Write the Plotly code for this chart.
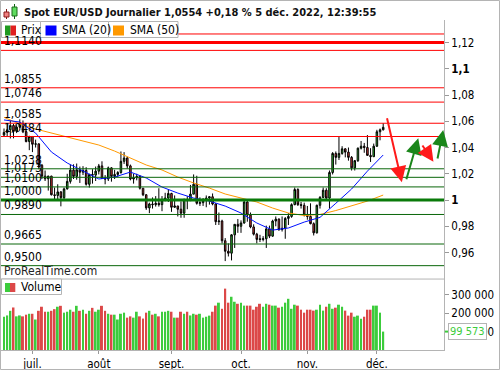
import numpy as np
import pandas as pd
import plotly.graph_objects as go

# ---------------- data ----------------
dates = pd.bdate_range("2022-06-20", "2022-12-05")

opens = [1.0495, 1.0515, 1.0535, 1.0568, 1.0523, 1.0555, 1.0583, 1.0520, 1.0445, 1.0484,
         1.0425, 1.0428, 1.0265, 1.0182, 1.0162, 1.0182, 1.0040, 1.0035, 1.0062, 1.0018,
         1.0085, 1.0142, 1.0228, 1.0180, 1.0230, 1.0212, 1.0225, 1.0120, 1.0195, 1.0190,
         1.0220, 1.0260, 1.0165, 1.0160, 1.0245, 1.0180, 1.0195, 1.0210, 1.0295, 1.0320,
         1.0260, 1.0160, 1.0170, 1.0180, 1.0090, 1.0040, 0.9940, 0.9970, 0.9965, 0.9975,
         0.9965, 1.0000, 1.0015, 1.0050, 0.9945, 0.9955, 0.9930, 0.9900, 1.0005, 0.9995,
         1.0045, 1.0120, 0.9975, 0.9980, 0.9995, 1.0015, 1.0025, 0.9970, 0.9835, 0.9840,
         0.9690, 0.9610, 0.9595, 0.9735, 0.9815, 0.9800, 0.9825, 0.9985, 0.9885, 0.9795,
         0.9740, 0.9705, 0.9700, 0.9705, 0.9780, 0.9725, 0.9840, 0.9855, 0.9775, 0.9785,
         0.9860, 0.9875, 0.9965, 1.0080, 0.9965, 0.9960, 0.9885, 0.9875, 0.9820, 0.9750,
         0.9960, 1.0020, 1.0075, 1.0015, 1.0210, 1.0355, 1.0325, 1.0355, 1.0390, 1.0365,
         1.0325, 1.0245, 1.0300, 1.0395, 1.0410, 1.0400, 1.0340, 1.0330, 1.0410, 1.0520,
         1.0535]
highs = [1.0545, 1.0583, 1.0605, 1.0580, 1.0570, 1.0615, 1.0606, 1.0530, 1.0490, 1.0488,
         1.0460, 1.0430, 1.0275, 1.0225, 1.0185, 1.0185, 1.0095, 1.0120, 1.0068, 1.0095,
         1.0200, 1.0270, 1.0272, 1.0278, 1.0255, 1.0258, 1.0250, 1.0200, 1.0235, 1.0255,
         1.0275, 1.0295, 1.0190, 1.0255, 1.0250, 1.0230, 1.0220, 1.0370, 1.0365, 1.0330,
         1.0270, 1.0200, 1.0200, 1.0190, 1.0090, 1.0045, 0.9980, 1.0020, 1.0030, 1.0090,
         1.0030, 1.0055, 1.0080, 1.0055, 1.0035, 0.9955, 0.9990, 1.0010, 1.0030, 1.0115,
         1.0195, 1.0185, 1.0020, 1.0015, 1.0035, 1.0030, 1.0050, 0.9975, 0.9905, 0.9850,
         0.9710, 0.9670, 0.9740, 0.9815, 0.9855, 0.9845, 0.9995, 0.9995, 0.9905, 0.9815,
         0.9750, 0.9735, 0.9725, 0.9805, 0.9805, 0.9850, 0.9875, 0.9860, 0.9875, 0.9870,
         0.9900, 0.9975, 1.0095, 1.0090, 0.9985, 0.9980, 0.9955, 0.9975, 0.9830, 0.9965,
         1.0030, 1.0095, 1.0090, 1.0225, 1.0365, 1.0370, 1.0480, 1.0410, 1.0395, 1.0400,
         1.0335, 1.0305, 1.0400, 1.0450, 1.0435, 1.0495, 1.0395, 1.0430, 1.0535, 1.0545,
         1.0585]
lows = [1.0485, 1.0485, 1.0469, 1.0470, 1.0510, 1.0550, 1.0510, 1.0440, 1.0380, 1.0365,
        1.0400, 1.0235, 1.0160, 1.0145, 1.0072, 1.0035, 0.9999, 0.9999, 0.9952, 1.0006,
        1.0080, 1.0125, 1.0160, 1.0155, 1.0130, 1.0190, 1.0110, 1.0095, 1.0125, 1.0145,
        1.0195, 1.0160, 1.0120, 1.0145, 1.0140, 1.0160, 1.0175, 1.0200, 1.0275, 1.0240,
        1.0150, 1.0125, 1.0150, 1.0080, 1.0030, 0.9925, 0.9900, 0.9935, 0.9950, 0.9950,
        0.9915, 0.9990, 0.9985, 0.9910, 0.9940, 0.9875, 0.9865, 0.9865, 0.9930, 0.9995,
        1.0045, 0.9965, 0.9955, 0.9955, 0.9945, 0.9965, 0.9960, 0.9810, 0.9810, 0.9670,
        0.9535, 0.9570, 0.9540, 0.9635, 0.9750, 0.9750, 0.9820, 0.9835, 0.9785, 0.9730,
        0.9670, 0.9680, 0.9685, 0.9635, 0.9710, 0.9720, 0.9800, 0.9765, 0.9760, 0.9705,
        0.9810, 0.9865, 0.9960, 0.9955, 0.9935, 0.9875, 0.9850, 0.9815, 0.9730, 0.9745,
        0.9935, 1.0015, 1.0005, 0.9935, 1.0195, 1.0270, 1.0305, 1.0345, 1.0325, 1.0300,
        1.0225, 1.0225, 1.0290, 1.0385, 1.0360, 1.0340, 1.0290, 1.0330, 1.0405, 1.0455,
        1.0530]
closes = [1.0515, 1.0535, 1.0568, 1.0523, 1.0555, 1.0583, 1.0520, 1.0445, 1.0484, 1.0425,
          1.0428, 1.0265, 1.0182, 1.0162, 1.0182, 1.0040, 1.0035, 1.0062, 1.0018, 1.0085,
          1.0142, 1.0228, 1.0180, 1.0230, 1.0212, 1.0225, 1.0120, 1.0195, 1.0190, 1.0220,
          1.0260, 1.0165, 1.0160, 1.0245, 1.0180, 1.0195, 1.0210, 1.0295, 1.0320, 1.0260,
          1.0160, 1.0170, 1.0180, 1.0090, 1.0040, 0.9940, 0.9970, 0.9965, 0.9975, 0.9965,
          1.0000, 1.0015, 1.0050, 0.9945, 0.9955, 0.9930, 0.9900, 1.0005, 0.9995, 1.0045,
          1.0120, 0.9975, 0.9980, 0.9995, 1.0015, 1.0025, 0.9970, 0.9835, 0.9840, 0.9690,
          0.9610, 0.9595, 0.9735, 0.9815, 0.9800, 0.9825, 0.9985, 0.9885, 0.9795, 0.9740,
          0.9700, 0.9700, 0.9705, 0.9780, 0.9725, 0.9840, 0.9855, 0.9775, 0.9785, 0.9860,
          0.9875, 0.9965, 1.0080, 0.9965, 0.9960, 0.9885, 0.9875, 0.9820, 0.9750, 0.9960,
          1.0020, 1.0075, 1.0015, 1.0210, 1.0355, 1.0325, 1.0355, 1.0390, 1.0365, 1.0325,
          1.0245, 1.0300, 1.0395, 1.0410, 1.0400, 1.0340, 1.0330, 1.0410, 1.0520, 1.0535,
          1.0554]
volumes = [180000, 187000, 212000, 230000, 182000, 187000, 182000, 191000, 196000, 196000,
           165000, 212000, 234000, 207000, 207000, 212000, 221000, 234000, 239000, 202000,
           207000, 218000, 207000, 239000, 212000, 218000, 196000, 212000, 228000, 207000,
           218000, 239000, 212000, 196000, 191000, 191000, 165000, 196000, 202000, 175000,
           182000, 175000, 207000, 182000, 170000, 202000, 212000, 191000, 196000, 182000,
           207000, 207000, 212000, 207000, 175000, 175000, 207000, 196000, 207000, 187000,
           196000, 191000, 196000, 175000, 180000, 186000, 207000, 240000, 256000, 223000,
           332000, 256000, 288000, 261000, 250000, 256000, 240000, 240000, 240000, 218000,
           234000, 250000, 234000, 250000, 245000, 240000, 240000, 229000, 234000, 256000,
           277000, 223000, 245000, 240000, 218000, 202000, 218000, 218000, 213000, 218000,
           245000, 213000, 234000, 250000, 223000, 229000, 245000, 234000, 213000, 186000,
           202000, 180000, 186000, 169000, 180000, 218000, 218000, 240000, 240000, 202000,
           99573]

# moving averages read every 5 sessions
sma_step = 5
sma20 = [1.0610, 1.0594, 1.0510, 1.0366, 1.0282, 1.0221, 1.0160, 1.0175, 1.0213, 1.0168,
         1.0099, 1.0053, 1.0015, 0.9992, 0.9954, 0.9901, 0.9825, 0.9771, 0.9787, 0.9832,
         0.9868, 0.9975, 1.0084, 1.0220, 1.0343]
sma50 = [1.0630, 1.0579, 1.0541, 1.0510, 1.0480, 1.0450, 1.0419, 1.0373, 1.0320, 1.0267,
         1.0229, 1.0175, 1.0130, 1.0091, 1.0046, 1.0015, 0.9985, 0.9939, 0.9901, 0.9882,
         0.9890, 0.9920, 0.9954, 0.9992, 1.0038]

month_labels = ["juil.", "août", "sept.", "oct.", "nov.", "déc."]
month_numbers = [7, 8, 9, 10, 11, 12]

price_tickvals = [0.96, 0.98, 1.00, 1.02, 1.04, 1.06, 1.08, 1.10, 1.12]
price_ticktext = ["0,96", "0,98", "<b>1</b>", "1,02", "1,04", "1,06", "1,08", "<b>1,1</b>", "1,12"]
vol_tickvals = [100000, 200000, 300000]
vol_ticktext = ["100 000", "200 000", "300 000"]

res_levels = [1.1265, 1.1200, 1.1140, 1.0855, 1.0746, 1.0585, 1.0484]
res_labels = ["", "", "1,1140", "1,0855", "1,0746", "1,0585", "1,0484"]
sup_levels = [1.0238, 1.0173, 1.0100, 1.0000, 0.9890, 0.9665, 0.9500]
sup_labels = ["1,0238", "1,0173", "1,0100", "1,0000", "0,9890", "0,9665", "0,9500"]

# hand-drawn projection arrows (bar offset from first session, price)
arrow_tail_bar = [121.1, 127.2, 132.1, 137.1]
arrow_tail_price = [1.0635, 1.0147, 1.0427, 1.0305]
arrow_tip_bar = [125.9, 131.1, 135.9, 139.0]
arrow_tip_price = [1.0135, 1.0470, 1.0292, 1.0533]
arrow_kind = ["down", "up", "down", "up"]

title_text = "Spot EUR/USD Journalier 1,0554 +0,18 % 5 déc. 2022, 12:39:55"

# ---------------- styling ----------------
FONT = "DejaVu Sans Condensed, DejaVu Sans, sans-serif"
GREEN = "#36c936"
RED = "#de3c3c"
VGREEN = "#3ccc3c"
VRED = "#dc4848"
LRED = "#ff0000"
LGREEN = "#0a660a"
FRAME = "#b4b4b4"

W, H = 500, 370
ML, MR, MT, MB = 0, 56, 20, 20
PW, PH = W - ML - MR, H - MT - MB


def px(x):
    return (x - ML) / PW


def py(y):
    return (H - MB - y) / PH


VOL_TOP = 0.215

xi = np.arange(len(dates))
month_idx = [int(np.argmax(dates.month == m)) for m in month_numbers]
sma_x = xi[::sma_step]
vol_colors = [VGREEN if c >= o else VRED for o, c in zip(opens, closes)]

fig = go.Figure()
fig.add_trace(go.Candlestick(
    x=xi, open=opens, high=highs, low=lows, close=closes,
    increasing=dict(line=dict(color="black", width=1), fillcolor=GREEN),
    decreasing=dict(line=dict(color="black", width=1), fillcolor=RED),
    whiskerwidth=0, showlegend=False, hoverinfo="skip", yaxis="y"))
fig.add_trace(go.Scatter(x=sma_x, y=sma50, mode="lines",
                         line=dict(color="#ff9900", width=1), showlegend=False, hoverinfo="skip"))
fig.add_trace(go.Scatter(x=sma_x, y=sma20, mode="lines",
                         line=dict(color="#0010ff", width=1), showlegend=False, hoverinfo="skip"))
fig.add_trace(go.Bar(x=xi, y=volumes, marker=dict(color=vol_colors, line=dict(width=0)),
                     width=0.62, yaxis="y2", showlegend=False, hoverinfo="skip"))

shapes = []
annotations = []

# support / resistance lines + labels
for lv, lab in zip(res_levels, res_labels):
    wdt = 3 if abs(lv - 1.12) < 1e-9 else 1
    shapes.append(dict(type="line", xref="paper", yref="y", x0=0, x1=1, y0=lv, y1=lv,
                       line=dict(color=LRED, width=wdt)))
    if lab:
        annotations.append(dict(text=lab, xref="paper", yref="y", x=px(1.5), y=lv,
                                xanchor="left", yanchor="bottom", yshift=0, showarrow=False,
                                font=dict(family=FONT, size=12, color="black")))
for lv, lab in zip(sup_levels, sup_labels):
    wdt = 3 if abs(lv - 1.0) < 1e-9 else 1
    shapes.append(dict(type="line", xref="paper", yref="y", x0=0, x1=1, y0=lv, y1=lv,
                       line=dict(color=LGREEN if wdt == 1 else "#0a7a0a", width=wdt)))
    annotations.append(dict(text=lab, xref="paper", yref="y", x=px(1.5), y=lv,
                            xanchor="left", yanchor="bottom", yshift=0, showarrow=False,
                            font=dict(family=FONT, size=12, color="black")))

# panel separators / frame
shapes.append(dict(type="line", xref="paper", yref="paper", x0=0, x1=1, y0=VOL_TOP, y1=VOL_TOP,
                   line=dict(color=FRAME, width=1)))
shapes.append(dict(type="rect", xref="paper", yref="paper", x0=px(0.5), x1=px(499.5),
                   y0=py(369.5), y1=py(0.5), line=dict(color=FRAME, width=1)))


def rect(x0, y0, x1, y1, fill, line=FRAME):
    shapes.append(dict(type="rect", xref="paper", yref="paper", x0=px(x0), x1=px(x1),
                       y0=py(y1), y1=py(y0), fillcolor=fill, line=dict(color=line, width=1)))


# legend boxes (price panel)
rect(1.5, 21.5, 40.5, 37.5, "white")
rect(40.5, 21.5, 108.5, 37.5, "white")
rect(108.5, 21.5, 178, 37.5, "white")
shapes.append(dict(type="rect", xref="paper", yref="paper", x0=px(5), x1=px(10.5), y0=py(35.5), y1=py(25.5),
                   fillcolor="#1f9a1f", line=dict(width=0)))
shapes.append(dict(type="rect", xref="paper", yref="paper", x0=px(10.5), x1=px(16), y0=py(35.5), y1=py(25.5),
                   fillcolor="#e02020", line=dict(width=0)))
shapes.append(dict(type="rect", xref="paper", yref="paper", x0=px(45.5), x1=px(56.5), y0=py(35.5), y1=py(25.5),
                   fillcolor="#0000ff", line=dict(width=0)))
shapes.append(dict(type="rect", xref="paper", yref="paper", x0=px(113), x1=px(124), y0=py(35.5), y1=py(25.5),
                   fillcolor="#ff9900", line=dict(width=0)))
for txt, x0 in [("Prix", 18.5), ("SMA (20)", 59.5), ("SMA (50)", 127.5)]:
    annotations.append(dict(text=txt, xref="paper", yref="paper", x=px(x0), y=py(30),
                            xanchor="left", yanchor="middle", showarrow=False,
                            font=dict(family=FONT, size=12, color="black")))

# legend box (volume panel)
rect(1.5, 279, 61.5, 294.5, "white")
shapes.append(dict(type="rect", xref="paper", yref="paper", x0=px(5), x1=px(10), y0=py(292), y1=py(283),
                   fillcolor="#3ccc3c", line=dict(width=0)))
shapes.append(dict(type="rect", xref="paper", yref="paper", x0=px(10), x1=px(15.3), y0=py(292), y1=py(283),
                   fillcolor="#dc4848", line=dict(width=0)))
annotations.append(dict(text="Volume", xref="paper", yref="paper", x=px(18.5), y=py(287),
                        xanchor="left", yanchor="middle", showarrow=False,
                        font=dict(family=FONT, size=12, color="black")))

# title icon
shapes.append(dict(type="line", xref="paper", yref="paper", x0=px(6.5), x1=px(6.5), y0=py(19), y1=py(9),
                   line=dict(color="#7a1010", width=1)))
rect(4, 12, 9, 17, "#f08080", "#8a1a1a")
shapes.append(dict(type="line", xref="paper", yref="paper", x0=px(14.5), x1=px(14.5), y0=py(19), y1=py(4),
                   line=dict(color="#106010", width=1)))
rect(12, 7, 17, 16, "#5fdc5f", "#1a6a1a")

annotations.append(dict(text="<b>" + title_text + "</b>", xref="paper", yref="paper",
                        x=px(22), y=py(12), xanchor="left", yanchor="middle", showarrow=False,
                        font=dict(family=FONT, size=11, color="#111")))
annotations.append(dict(text="ProRealTime.com", xref="paper", yref="paper",
                        x=px(2), y=py(271), xanchor="left", yanchor="middle", showarrow=False,
                        font=dict(family=FONT, size=12, color="#222")))

# last volume label
last_vol = volumes[-1]
annotations.append(dict(text=f"{last_vol:,}".replace(",", " "), xref="paper", yref="y2",
                        x=1, y=last_vol, xanchor="left", yanchor="middle", xshift=4,
                        showarrow=False, bgcolor="white", bordercolor=FRAME, borderwidth=1,
                        borderpad=1, font=dict(family=FONT, size=11, color="#3ccc3c")))
shapes.append(dict(type="line", xref="paper", yref="y2", x0=1.002, x1=1.011, y0=last_vol, y1=last_vol,
                   line=dict(color="#3ccc3c", width=2)))

# arrows
for tb, tp, hb, hp, k in zip(arrow_tail_bar, arrow_tail_price, arrow_tip_bar, arrow_tip_price, arrow_kind):
    col = "#ff1a1a" if k == "down" else "#1a861a"
    annotations.append(dict(x=hb, y=hp, ax=tb, ay=tp, xref="x", yref="y", axref="x", ayref="y",
                            text="", showarrow=True, arrowhead=2, arrowsize=1.6, arrowwidth=2,
                            arrowcolor=col, standoff=0))

fig.update_layout(
    width=W, height=H, margin=dict(l=ML, r=MR, t=MT, b=MB),
    paper_bgcolor="white", plot_bgcolor="white", showlegend=False,
    font=dict(family=FONT, size=11, color="black"),
    xaxis=dict(domain=[0, 1], anchor="y2", range=[-1.27, 139.24],
               tickvals=month_idx, ticktext=month_labels, ticks="outside", ticklen=3,
               tickcolor="#999", showline=True, linecolor=FRAME, showgrid=False, zeroline=False,
               rangeslider=dict(visible=False), tickfont=dict(family=FONT, size=11.5, color="black")),
    yaxis=dict(domain=[VOL_TOP, 1], side="right", anchor="x", range=[0.93981, 1.13714],
               tickvals=price_tickvals, ticktext=price_ticktext, ticks="outside", ticklen=4,
               tickcolor="#999", showline=True, linecolor=FRAME, showgrid=False, zeroline=False,
               tickfont=dict(family=FONT, size=11.5, color="black")),
    yaxis2=dict(domain=[0, VOL_TOP], side="right", anchor="x", range=[0, 383800],
                tickvals=vol_tickvals, ticktext=vol_ticktext, ticks="outside", ticklen=4,
                tickcolor="#999", showline=True, linecolor=FRAME, showgrid=False, zeroline=False,
                tickfont=dict(family=FONT, size=11.5, color="black")),
    shapes=shapes, annotations=annotations, bargap=0.3,
)

fig.write_html("out.html")
